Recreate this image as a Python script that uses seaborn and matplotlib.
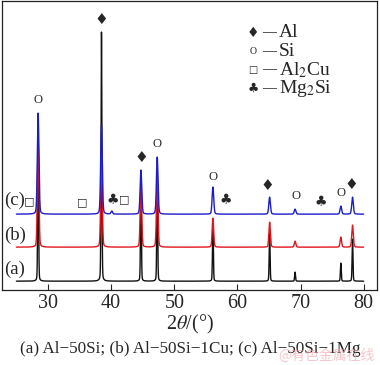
import numpy as np
import pandas as pd
import matplotlib
matplotlib.use("Agg")
import matplotlib.pyplot as plt
import seaborn as sns

# ─── Data ─────────────────────────────────────────────────────────────────────
SAMPLES     = ["(a)", "(b)", "(c)"]
COLORS      = ["#111111", "#e0161e", "#1c1cc8"]
OFFSETS     = [9, 43, 76]                     # baseline of each pattern (a.u.)
PEAK_POS    = [28.44, 38.47, 44.72, 47.30, 56.12, 65.10, 69.13, 76.38, 78.23]
HEIGHT_A    = [150, 249, 100, 112, 58, 48, 9, 18, 42]
HEIGHT_B    = [105, 95, 62, 72, 29, 25, 6, 10, 22]
HEIGHT_C    = [101, 89, 44, 57, 27, 17, 5, 8, 17]
FWHM        = [0.16, 0.28, 0.30]
MINOR_POS_C = [40.1]                          # Mg2Si bump on (c)
MINOR_H_C   = [3]

# peak marks: (symbol, 2theta, height)
AL, SI, CU, MG = "\u2666", "O", "\u25a1", "\u2663"
MARKS = [
    (SI, 28.4, 190), (AL, 38.5, 271), (AL, 44.7, 133), (SI, 47.3, 146),
    (SI, 56.1, 113), (MG, 58.2, 90), (AL, 64.8, 105), (SI, 69.2, 94),
    (MG, 73.2, 88), (SI, 76.4, 97), (AL, 78.1, 106),
    (CU, 27.0, 89), (CU, 35.4, 88), (MG, 40.3, 90), (CU, 42.0, 91),
]
LEGEND = [(AL, "Al"), (SI, "Si"), (CU, r"Al$_2$Cu"), (MG, r"Mg$_2$Si")]
SYM_SIZE = {AL: 11, SI: 9, CU: 8, MG: 10}


def pattern(heights, fwhm, offset, extra_pos=(), extra_h=()):
    tt = np.arange(25.0, 80.0, 0.01)
    y = np.full_like(tt, float(offset))
    for p, h in zip(list(PEAK_POS) + list(extra_pos), list(heights) + list(extra_h)):
        g = np.exp(-4 * np.log(2) * ((tt - p) / fwhm) ** 2)
        l = 1 / (1 + 4 * ((tt - p) / fwhm) ** 2)
        y += h * (0.8 * g + 0.2 * l)
    return tt, y


frames = []
for name, hts, w, off in zip(SAMPLES, [HEIGHT_A, HEIGHT_B, HEIGHT_C], FWHM, OFFSETS):
    if name == "(c)":
        tt, y = pattern(hts, w, off, MINOR_POS_C, MINOR_H_C)
    else:
        tt, y = pattern(hts, w, off)
    frames.append(pd.DataFrame({"2theta": tt, "I": y, "sample": name}))
df = pd.concat(frames, ignore_index=True)

# ─── Plot ─────────────────────────────────────────────────────────────────────
sns.set_style("ticks")
plt.rcParams["font.family"] = ["Liberation Serif", "DejaVu Serif"]
plt.rcParams["mathtext.fontset"] = "stix"

fig = plt.figure(figsize=(3.8, 3.65), dpi=100)
ax = fig.add_axes([0.005, 0.205, 0.987, 0.792])

sns.lineplot(data=df, x="2theta", y="I", hue="sample", hue_order=SAMPLES,
             palette=COLORS, estimator=None, sort=False, lw=1.0,
             legend=False, ax=ax)

ax.set_xlim(22.7, 82.1)
ax.set_ylim(0, 289)
ax.set_xticks([30, 40, 50, 60, 70, 80])
ax.set_yticks([])
ax.tick_params(axis="x", direction="in", length=4, width=0.8, labelsize=14.5, pad=3)
for s in ax.spines.values():
    s.set_linewidth(0.9)
    s.set_color("#222222")
ax.set_xlabel(r"2$\theta$/(°)", fontsize=14.5, labelpad=0)
ax.set_ylabel("")


def sym_family(sym):
    return ["Liberation Serif"] if sym == SI else ["DejaVu Sans"]


for sym, x, y in MARKS:
    ax.text(x, y, sym, ha="center", va="center", fontsize=SYM_SIZE[sym],
            family=sym_family(sym))

for name, off in zip(SAMPLES, [21, 55, 90]):
    ax.text(23.0, off, name, ha="left", va="center", fontsize=13.5)

for i, (sym, lab) in enumerate(LEGEND):
    ty = 0.89 - i * 0.064
    ax.text(0.669, ty, sym, transform=ax.transAxes, ha="center", va="center",
            fontsize=SYM_SIZE[sym] - 1 if sym != SI else 7,
            family=sym_family(sym))
    ax.text(0.713, ty, "\u2014", transform=ax.transAxes, ha="center",
            va="center", fontsize=10, fontweight="bold")
    ax.text(0.738, ty, lab, transform=ax.transAxes,
            ha="left", va="center", fontsize=14)

fig.text(0.5, 0.022, "(a) Al\u221250Si; (b) Al\u221250Si\u22121Cu; (c) Al\u221250Si\u22121Mg",
         ha="center", va="bottom", fontsize=12.3)
fig.text(0.985, 0.005, "@有色金属在线", ha="right", va="bottom", fontsize=10,
         color="#f0a0a8", alpha=0.6, family=["Noto Sans CJK SC", "DejaVu Sans"])

fig.savefig("out.png", dpi=100)
